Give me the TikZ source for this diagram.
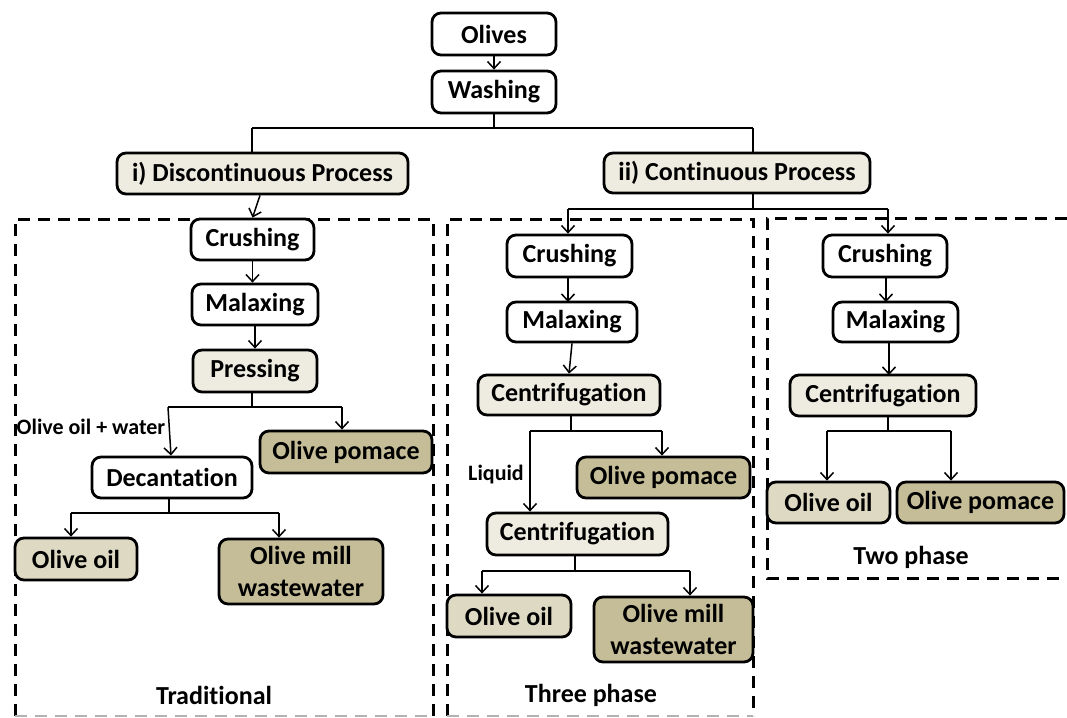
\documentclass[tikz,border=0pt]{standalone}
\usepackage{fontspec}
\setmainfont{Carlito}[Ligatures={NoCommon}]
\usetikzlibrary{arrows.meta}
\definecolor{lightfill}{HTML}{EEECE1}
\definecolor{medfill}{HTML}{DDD9C3}
\definecolor{darkfill}{HTML}{C4BD97}
\newcommand\bx[7]{\node[#6, minimum width={(#4-#2)*0.5pt}, minimum height={(#5-#3)*0.5pt}] (#1) at ({(#2+#4)/2},{(#3+#5)/2}) {#7};}
\begin{document}
\begin{tikzpicture}[x=0.5pt,y=-0.5pt,
  box/.style={draw=black, line width=1.4pt, rounded corners=4.5pt, inner sep=0pt, align=center,
    font=\fontsize{13}{16}\selectfont\bfseries, fill=white},
  lbox/.style={box, fill=lightfill},
  mbox/.style={box, fill=medfill},
  dbox/.style={box, fill=darkfill},
  conn/.style={line width=0.75pt},
  arr/.style={conn, -{Straight Barb[length=3.5pt,width=6.5pt,line width=0.75pt]}},
  frame/.style={line width=1.5pt, dash pattern=on 6pt off 4pt},
  lab/.style={inner sep=0pt, font=\fontsize{11}{13}\selectfont\bfseries},
  sec/.style={inner sep=0pt, font=\fontsize{13}{16}\selectfont\bfseries}]
\useasboundingbox (0,0) rectangle (1067,718);
% dashed frames
\draw[frame] (15,716) -- (15,219) -- (433,219) -- (433,716);
\draw[frame, draw=gray!60, line width=1pt] (15,716) -- (433,716);
\draw[frame] (447,716) -- (447,219) -- (753,219) -- (753,716);
\draw[frame, draw=gray!60, line width=1pt] (447,716) -- (753,716);
\draw[frame] (1067,218) -- (767,218) -- (767,578) -- (1067,578);
% boxes
\bx{olives}{432}{13}{556}{55}{box}{Olives}
\bx{washing}{432}{71}{556}{113}{box}{Washing}
\bx{disc}{117}{153}{408}{194}{lbox}{i) Discontinuous Process}
\bx{cont}{604}{153}{870}{193}{lbox}{ii) Continuous Process}
\bx{crushL}{191}{219}{314}{260}{box}{Crushing}
\bx{malaxL}{192}{284}{318}{325}{box}{Malaxing}
\bx{pressL}{193}{350}{317}{392}{lbox}{Pressing}
\bx{pomL}{260}{431}{432}{473}{dbox}{Olive pomace}
\bx{decant}{92}{457}{252}{498}{box}{Decantation}
\bx{oilL}{15}{538}{137}{580}{mbox}{Olive oil}
\bx{omwL}{219}{539}{383}{604}{dbox}{Olive mill\\wastewater}
\bx{crushM}{507}{235}{632}{277}{box}{Crushing}
\bx{malaxM}{507}{302}{637}{342}{box}{Malaxing}
\bx{centA}{478}{375}{660}{415}{lbox}{Centrifugation}
\bx{pomM}{577}{457}{750}{498}{dbox}{Olive pomace}
\bx{centB}{487}{513}{668}{555}{lbox}{Centrifugation}
\bx{oilM}{447}{595}{571}{637}{mbox}{Olive oil}
\bx{omwM}{594}{597}{753}{662}{dbox}{Olive mill\\wastewater}
\bx{crushR}{823}{235}{947}{277}{box}{Crushing}
\bx{malaxR}{833}{302}{958}{342}{box}{Malaxing}
\bx{centR}{790}{375}{976}{416}{lbox}{Centrifugation}
\bx{oilR}{767}{482}{890}{523}{mbox}{Olive oil}
\bx{pomR}{897}{482}{1064}{523}{dbox}{Olive pomace}
% labels
\node[lab] (lowater) at (91,427) {Olive oil + water};
\node[lab] (liquid) at (496,475) {Liquid};
\node[sec] (trad) at (214,695) {Traditional};
\node[sec] (three) at (591,695) {Three phase};
\node[sec] (two) at (911,557) {Two phase};
% junction coordinates
\coordinate (wm) at (494,128);
\coordinate (jl) at (252,128);
\coordinate (jr) at (753,128);
\coordinate (pl) at (168,407);
\coordinate (pr) at (342,407);
\coordinate (dl) at (71,513);
\coordinate (dr) at (279,513);
\coordinate (cm) at (753,209);
\coordinate (cl) at (568,209);
\coordinate (cr) at (888,209);
\coordinate (al) at (530,431);
\coordinate (ar) at (662,431);
\coordinate (bl) at (482,571);
\coordinate (br) at (690,571);
\coordinate (rm) at (888,431);
\coordinate (rl) at (827,431);
\coordinate (rr) at (951,431);
% connectors top
\draw[arr] (olives.south) -- (washing.north);
\draw[conn] (washing.south) -- (wm);
\draw[conn] (jl) -- (jr);
\draw[conn] (jl) -- (jl |- disc.north);
\draw[conn] (jr) -- (jr |- cont.north);
% left
\draw[arr] ([xshift=-1.25pt]disc.south) -- (crushL.north);
\draw[arr] (crushL.south) -- (crushL.south |- malaxL.north);
\draw[arr] (malaxL.south) -- (pressL.north);
\draw[conn] (pressL.south -| 252,0) -- (252,407);
\draw[conn] (pl) -- (pr);
\draw[arr] (pl) -- ([xshift=-0.5pt]decant.north);
\draw[arr] (pr) -- (pr |- pomL.north);
\draw[conn] (decant.south -| 169,0) -- (169,513);
\draw[conn] (dl) -- (dr);
\draw[arr] (dl) -- (dl |- oilL.north);
\draw[arr] (dr) -- (dr |- omwL.north);
% middle
\draw[conn] (cm |- cont.south) -- (cm);
\draw[conn] (cl) -- (cr);
\draw[arr] (cl) -- (cl |- crushM.north);
\draw[arr] (cr) -- (cr |- crushR.north);
\draw[arr] (crushM.south -| 568,0) -- (568,302);
\draw[arr] (malaxM.south) -- (centA.north);
\draw[conn] (centA.south -| 571,0) -- (571,431);
\draw[conn] (al) -- (ar);
\draw[arr] (ar) -- (ar |- pomM.north);
\draw[arr] (al) -- (al |- centB.north);
\draw[conn] (centB.south -| 575,0) -- (575,571);
\draw[conn] (bl) -- (br);
\draw[arr] (bl) -- (bl |- oilM.north);
\draw[arr] (br) -- (br |- omwM.north);
% right
\draw[arr] (crushR.south -| 886,0) -- (886,302);
\draw[arr] (malaxR.south -| 889,0) -- (889,375);
\draw[conn] (rm |- centR.south) -- (rm);
\draw[conn] (rl) -- (rr);
\draw[arr] (rl) -- (rl |- oilR.north);
\draw[arr] (rr) -- (rr |- pomR.north);
\end{tikzpicture}
\end{document}
